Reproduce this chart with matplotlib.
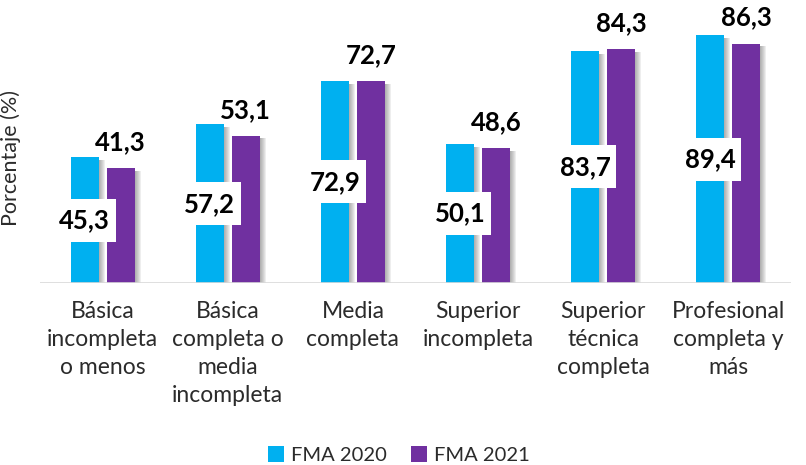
import matplotlib
matplotlib.use("Agg")
import matplotlib.pyplot as plt
from matplotlib.patches import Rectangle, Patch
import numpy as np

categories = ["Básica\nincompleta\no menos", "Básica\ncompleta o\nmedia\nincompleta",
              "Media\ncompleta", "Superior\nincompleta", "Superior\ntécnica\ncompleta",
              "Profesional\ncompleta y\nmás"]
fma2020 = [45.3, 57.2, 72.9, 50.1, 83.7, 89.4]
fma2021 = [41.3, 53.1, 72.7, 48.6, 84.3, 86.3]
series_names = ["FMA 2020", "FMA 2021"]

BLUE = "#00B0F0"
PURPLE = "#7030A0"
TXT = "#2b2b2b"
plt.rcParams['font.family'] = ['Lato', 'DejaVu Sans']

fig = plt.figure(figsize=(8.06, 4.65), dpi=100)
W, H = 806, 465
ax = fig.add_axes([40 / W, 182 / H, 751 / W, 277.4 / H])
ax.set_xlim(-0.5, 5.5)
ax.set_ylim(0, 100)

x = np.arange(len(categories))
bw = 0.224
off = 0.144
px = 1 / 125.2  # one pixel in x data units

# shadows
for i in range(1, 7):
    for xs, vals in ((x - off, fma2020), (x + off, fma2021)):
        ax.bar(xs + i * px, np.array(vals) - 1.0, width=bw, color="#606060",
               alpha=0.10, zorder=1, linewidth=0)

ax.bar(x - off, fma2020, width=bw, color=BLUE, zorder=2, linewidth=0)
ax.bar(x + off, fma2021, width=bw, color=PURPLE, zorder=2, linewidth=0)

# baseline
ax.axhline(0, color="#D9D9D9", lw=1.2, zorder=3)

for s in ax.spines.values():
    s.set_visible(False)
ax.set_yticks([])
ax.set_xticks(x)
ax.set_xticklabels(categories, fontsize=16.5, color=TXT, linespacing=1.42)
ax.tick_params(axis='x', length=0, pad=13)
for lbl in ax.get_xticklabels():
    lbl.set_va('top')

ax.set_ylabel("Porcentaje (%)", fontsize=15.5, color=TXT, labelpad=6)
ax.yaxis.set_label_coords(-0.025, 0.45)

# labels
bx_w = 62 * px
bx_h = 43 / 2.774
for xi, v in zip(x, fma2020):
    cx = xi - off
    cy = v / 2
    ax.add_patch(Rectangle((cx - bx_w / 2, cy - bx_h / 2), bx_w, bx_h,
                           facecolor="white", edgecolor="none", zorder=4))
    ax.text(cx, cy, f"{v:.1f}".replace(".", ","), ha="center", va="center",
            fontsize=18.5, fontweight="bold", color="black", zorder=5)
for xi, v in zip(x, fma2021):
    ax.text(xi + off, v + 26 / 2.774, f"{v:.1f}".replace(".", ","), ha="center",
            va="center", fontsize=18.5, fontweight="bold", color="black", zorder=5)

handles = [Patch(facecolor=BLUE), Patch(facecolor=PURPLE)]
fig.legend(handles, series_names, loc="center", bbox_to_anchor=(399 / W, 1 - 455 / H),
           ncol=2, frameon=False, fontsize=14.5, handlelength=0.8, handleheight=0.8,
           handletextpad=0.35, columnspacing=1.2, labelcolor=TXT)

fig.savefig("out.png", dpi=100)
